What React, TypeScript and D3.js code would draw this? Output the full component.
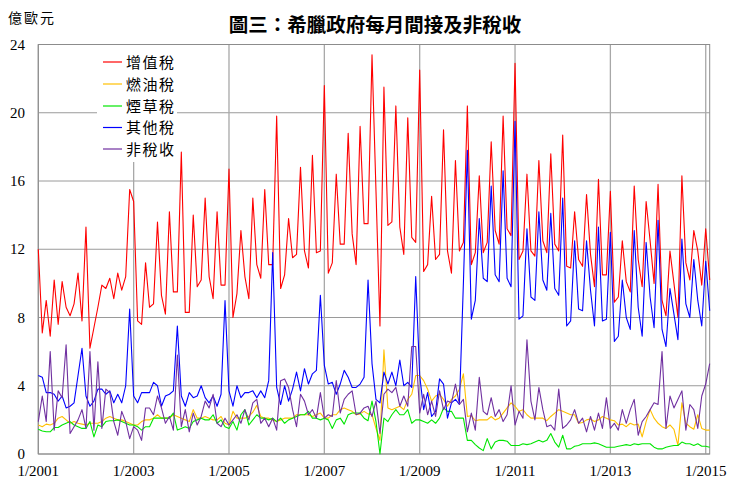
import React from "react";
import * as d3 from "d3";

// Monthly values, Jan 2001 – Feb 2015 (億歐元)
const vat = [
  12.0, 7.1, 9.0, 6.9, 10.2, 7.6, 10.1, 8.6, 8.1, 8.8, 10.6, 7.8, 13.3, 6.2, 7.4, 8.6, 9.9, 9.7, 10.3, 9.1, 10.6, 9.6, 10.4, 15.5, 14.8, 7.8, 7.6, 11.2, 8.6,
  8.8, 13.6, 9.3, 8.2, 14.2, 9.5, 9.5, 17.7, 8.3, 8.3, 14.0, 9.8, 10.2, 15.0, 10.4, 9.1, 14.2, 9.9, 9.9, 16.7, 8.0, 9.4, 13.1, 10.4, 9.1, 15.0, 11.1, 10.3,
  15.5, 11.1, 11.1, 19.8, 9.7, 10.5, 13.8, 11.5, 11.7, 16.8, 11.9, 10.9, 17.5, 11.8, 11.9, 21.6, 10.6, 11.2, 16.4, 12.3, 12.3, 18.8, 12.9, 11.1, 19.2, 13.5, 13.5,
  23.4, 15.4, 7.5, 21.5, 13.4, 13.6, 20.4, 13.3, 11.7, 19.7, 12.7, 12.4, 22.5, 10.7, 11.1, 15.1, 11.4, 11.7, 19.0, 11.9, 10.6, 17.2, 11.9, 12.4, 20.4, 11.1, 11.8, 16.3,
  11.8, 12.4, 18.3, 13.1, 12.3, 19.8, 13.2, 12.8, 22.9, 11.4, 11.9, 16.4, 11.9, 11.6, 17.2, 12.5, 11.8, 17.6, 12.3, 11.9, 18.7, 11.0, 10.9, 14.2, 11.4, 11.0, 15.2, 11.7,
  9.8, 16.1, 10.5, 10.5, 15.4, 8.9, 9.2, 12.5, 10.1, 9.5, 15.7, 11.4, 9.8, 14.8, 12.5, 10.0, 15.8, 9.0, 8.1, 11.9, 10.0, 8.0, 16.3, 11.2, 10.2, 13.1, 11.9, 9.9, 13.2, 10.2,
];

const fuel = [
  1.7, 1.6, 1.75, 1.7, 1.8, 2.1, 2.2, 2.0, 1.8, 1.9, 1.8, 1.75, 1.7, 1.8, 1.8, 1.8, 1.9, 2.1, 2.2, 2.1, 2.0, 2.0, 1.9, 1.8, 1.7, 1.7, 1.9, 2.0, 2.0,
  2.1, 2.3, 2.1, 2.1, 2.1, 2.3, 2.2, 2.1, 2.0, 1.9, 2.6, 2.1, 2.1, 2.2, 2.1, 2.0, 2.0, 2.2, 1.8, 1.7, 2.5, 2.1, 2.1, 2.1, 2.2, 2.45, 2.85, 2.2,
  2.1, 2.1, 2.0, 1.9, 2.0, 2.1, 2.1, 2.1, 2.3, 2.3, 2.3, 2.3, 2.2, 2.3, 2.4, 2.1, 2.1, 2.3, 2.3, 2.6, 2.7, 2.6, 2.5, 2.3, 2.35, 2.5, 2.35,
  2.3, 1.5, 0.8, 6.1, 2.7, 2.6, 2.7, 2.8, 2.6, 3.2, 3.5, 4.6, 4.6, 4.3, 3.8, 3.1, 3.4, 3.5, 3.2, 2.8, 3.2, 3.4, 3.8, 4.7, 2.2, 2.25, 1.95, 2.0,
  2.0, 2.0, 2.2, 2.0, 2.1, 2.4, 2.7, 3.0, 2.8, 2.5, 2.6, 2.3, 2.1, 2.1, 2.1, 2.1, 1.95, 2.2, 2.4, 2.6, 2.5, 2.4, 2.3, 2.3, 1.8, 1.85, 2.0, 2.05,
  1.9, 2.0, 2.2, 2.1, 2.0, 1.95, 1.7, 1.75, 1.6, 1.8, 1.7, 1.75, 1.0, 1.9, 2.6, 2.1, 1.8, 1.6, 1.5, 1.7, 1.45, 0.5, 3.0, 1.8, 1.6, 1.45, 2.3, 1.5, 1.4, 1.4,
];

const tobacco = [
  1.45, 1.35, 1.3, 1.3, 1.55, 1.55, 1.7, 1.8, 1.9, 1.7, 1.6, 1.5, 1.5, 1.9, 1.0, 1.7, 1.6, 1.9, 1.95, 1.95, 2.0, 1.9, 1.8, 1.7, 1.7, 1.6, 1.4, 1.6, 1.6,
  2.1, 2.1, 2.1, 2.1, 2.1, 2.4, 1.4, 1.5, 1.6, 1.5, 1.9, 2.0, 2.1, 2.0, 2.0, 2.3, 1.8, 2.0, 1.6, 1.5, 1.9, 1.4, 2.3, 2.6, 1.7, 2.0, 2.3, 2.1,
  2.1, 2.0, 2.1, 1.9, 2.1, 1.8, 2.0, 2.1, 2.2, 2.3, 2.3, 2.5, 2.1, 2.1, 2.0, 2.1, 2.0, 1.5, 2.0, 2.1, 1.75, 2.3, 2.4, 2.4, 2.4, 2.1, 1.95,
  3.1, 1.9, 0.0, 2.1, 1.9, 2.3, 2.6, 2.3, 2.3, 2.6, 1.8, 2.0, 2.0, 1.9, 1.8, 2.0, 1.8, 2.1, 2.7, 2.5, 2.5, 2.1, 2.1, 2.1, 0.8, 0.8, 0.55, 0.35,
  0.2, 0.9, 0.3, 0.7, 0.8, 0.8, 0.75, 0.5, 0.5, 0.5, 0.6, 0.55, 0.6, 0.7, 0.8, 0.7, 0.8, 1.2, 0.7, 0.4, 1.1, 0.3, 0.3, 0.45, 0.5, 0.6, 0.6, 0.6,
  0.65, 0.6, 0.5, 0.4, 0.4, 0.4, 0.45, 0.5, 0.55, 0.5, 0.6, 0.55, 0.6, 0.6, 0.6, 0.4, 0.3, 0.3, 0.4, 0.45, 0.5, 0.5, 0.7, 0.6, 0.6, 0.5, 0.6, 0.45, 0.45, 0.4,
];

const otherTax = [
  4.6, 4.5, 3.6, 3.6, 3.5, 3.1, 3.4, 2.7, 2.8, 3.0, 4.6, 6.2, 3.4, 2.8, 3.1, 3.8, 3.8, 3.5, 3.7, 3.0, 3.5, 3.0, 4.0, 8.5, 3.4, 3.0, 3.6, 3.6, 3.6,
  4.2, 4.0, 2.8, 3.4, 3.5, 3.7, 7.5, 3.4, 2.8, 3.6, 3.3, 3.4, 4.0, 3.3, 3.0, 3.4, 2.8, 3.5, 9.0, 3.7, 2.8, 4.0, 3.3, 3.6, 3.6, 3.7, 3.3, 3.7,
  3.3, 4.3, 11.8, 3.9, 2.9, 4.0, 3.1, 3.8, 4.8, 3.7, 5.0, 4.1, 4.7, 4.9, 9.3, 5.2, 4.1, 4.2, 3.5, 4.1, 4.9, 4.5, 3.9, 3.9, 4.1, 4.5, 10.2,
  5.3, 3.2, 3.0, 4.8, 4.1, 4.8, 4.0, 5.5, 4.0, 4.2, 3.9, 10.4, 4.6, 2.6, 3.6, 2.2, 2.5, 4.4, 4.1, 2.1, 3.0, 3.2, 2.9, 10.0, 17.8, 7.9, 9.0, 13.8,
  10.3, 10.1, 15.7, 10.5, 10.1, 16.6, 10.3, 9.8, 19.5, 7.9, 8.1, 13.2, 9.2, 9.0, 14.2, 10.2, 9.6, 14.1, 9.7, 9.3, 15.0, 7.5, 7.8, 12.5, 8.5, 8.4, 12.5, 9.6,
  7.5, 13.3, 7.8, 7.9, 13.0, 6.6, 6.9, 10.2, 8.0, 7.3, 13.1, 8.6, 6.9, 12.4, 9.2, 7.4, 13.7, 7.3, 6.3, 9.7, 8.2, 6.7, 12.6, 8.8, 8.0, 11.4, 9.0, 7.5, 11.3, 8.4,
];

const nonTax = [
  1.9, 3.4, 1.9, 6.0, 1.4, 3.7, 3.3, 6.4, 1.2, 1.6, 2.0, 2.6, 1.5, 6.0, 1.4, 5.4, 1.5, 3.8, 3.6, 1.9, 1.1, 2.5, 1.9, 0.9, 1.6, 1.4, 0.8, 2.7, 2.7,
  2.3, 3.4, 2.7, 1.8, 2.2, 1.4, 5.8, 1.6, 2.6, 1.3, 2.4, 1.7, 2.2, 3.1, 2.7, 3.5, 1.8, 1.6, 2.1, 1.7, 2.0, 2.3, 1.8, 2.6, 2.0, 3.0, 3.2, 1.8,
  2.1, 1.6, 2.1, 1.4, 4.3, 4.4, 3.9, 2.6, 1.6, 3.5, 3.1, 2.3, 2.6, 2.1, 3.6, 2.1, 2.3, 2.2, 4.3, 2.4, 3.2, 3.5, 3.7, 2.3, 2.4, 2.7, 2.8,
  2.2, 3.1, 1.2, 3.5, 3.8, 3.6, 3.9, 2.8, 3.4, 2.8, 6.3, 6.3, 2.4, 3.5, 2.3, 3.1, 2.2, 3.7, 2.6, 3.1, 3.0, 4.1, 2.9, 3.2, 1.3, 2.4, 1.4, 4.5,
  2.5, 2.3, 3.3, 2.2, 2.6, 1.9, 2.3, 4.0, 1.7, 2.5, 2.1, 6.7, 3.1, 2.0, 3.9, 2.6, 1.6, 1.7, 1.4, 3.8, 1.5, 1.7, 2.0, 2.6, 1.8, 2.1, 1.3, 2.2,
  1.4, 2.4, 1.5, 3.3, 1.5, 1.8, 1.4, 2.6, 1.8, 2.6, 3.2, 1.1, 1.9, 2.2, 2.6, 3.0, 2.9, 6.0, 1.5, 3.4, 2.7, 3.2, 3.7, 1.4, 2.9, 2.6, 1.5, 3.4, 4.1, 5.3,
];

const seriesNames = ["增值稅", "燃油稅", "煙草稅", "其他稅", "非稅收"];
const seriesColors = ["#ff0000", "#ffc000", "#00e600", "#0000ff", "#7030a0"];
const seriesData = [vat, fuel, tobacco, otherTax, nonTax];

const yTicks = [0, 4, 8, 12, 16, 20, 24];
const xTickLabels = ["1/2001", "1/2003", "1/2005", "1/2007", "1/2009", "1/2011", "1/2013", "1/2015"];
const xTickMonths = [0, 24, 48, 72, 96, 120, 144, 168];

const title = "圖三：希臘政府每月間接及非稅收";
const unitLabel = "億歐元";

export default function App() {
  const W = 729;
  const H = 480;
  const left = 38.3;
  const right = 709.7;
  const top = 44.5;
  const bottom = 454;
  const n = vat.length;

  const x = d3.scaleLinear().domain([0, n - 1]).range([left, right]);
  const y = d3.scaleLinear().domain([0, 24]).range([bottom, top]);

  const line = d3
    .line<number>()
    .x((_, i) => x(i))
    .y((d) => y(d));

  const serif = "'Liberation Serif', 'Times New Roman', serif";
  const cjk = "'Noto Sans CJK TC', 'Noto Sans CJK SC', sans-serif";

  const legendX = 97;
  const legendY = 45;
  const legendW = 80;
  const legendH = 117;
  const rowY = [62, 84, 106, 127.5, 149];

  return (
    <svg
      width={W}
      height={H}
      viewBox={`0 0 ${W} ${H}`}
      style={{ position: "absolute", left: 0, top: 0, background: "#fff" }}
    >
      <rect x={0} y={0} width={W} height={H} fill="#fff" />
      {/* horizontal gridlines */}
      {yTicks.map((t) => (
        <line
          key={"h" + t}
          x1={left}
          x2={right}
          y1={y(t)}
          y2={y(t)}
          stroke="#9a9a9a"
          strokeWidth={1}
        />
      ))}
      {/* vertical gridlines */}
      {xTickMonths.map((m) => (
        <line
          key={"v" + m}
          x1={x(m)}
          x2={x(m)}
          y1={top}
          y2={bottom}
          stroke="#a8a8a8"
          strokeWidth={1.3}
        />
      ))}
      {/* legend background */}
      <rect x={legendX} y={legendY} width={legendW} height={legendH} fill="#fff" />
      {/* plot border */}
      <rect
        x={left}
        y={top}
        width={right - left}
        height={bottom - top}
        fill="none"
        stroke="#8c8c8c"
        strokeWidth={1}
      />
      {/* series */}
      {seriesData.map((s, k) => (
        <path
          key={"s" + k}
          d={line(s) || ""}
          fill="none"
          stroke={seriesColors[k]}
          strokeWidth={1.1}
          strokeLinejoin="round"
        />
      ))}
      {/* legend */}
      {seriesNames.map((name, k) => (
        <g key={"lg" + k}>
          <line
            x1={103}
            x2={122}
            y1={rowY[k]}
            y2={rowY[k]}
            stroke={seriesColors[k]}
            strokeWidth={1.2}
          />
          <text
            x={126}
            y={rowY[k] + 5.5}
            fontFamily={cjk}
            fontSize={15}
            letterSpacing={1.5}
            fill="#000"
          >
            {name}
          </text>
        </g>
      ))}
      {/* y tick labels */}
      {yTicks.map((t) => (
        <text
          key={"yt" + t}
          x={25}
          y={y(t) + 5}
          textAnchor="end"
          fontFamily={serif}
          fontSize={15}
          fill="#000"
        >
          {t}
        </text>
      ))}
      {/* x tick labels */}
      {xTickMonths.map((m, k) => (
        <text
          key={"xt" + m}
          x={x(m)}
          y={476}
          textAnchor="middle"
          fontFamily={serif}
          fontSize={15}
          fill="#000"
        >
          {xTickLabels[k]}
        </text>
      ))}
      {/* unit label */}
      <text x={8} y={23} fontFamily={cjk} fontSize={14} letterSpacing={2} fill="#000">
        {unitLabel}
      </text>
      {/* title */}
      <text
        x={375}
        y={32}
        textAnchor="middle"
        fontFamily={cjk}
        fontSize={19.5}
        fontWeight="bold"
        fill="#000"
      >
        {title}
      </text>
    </svg>
  );
}
